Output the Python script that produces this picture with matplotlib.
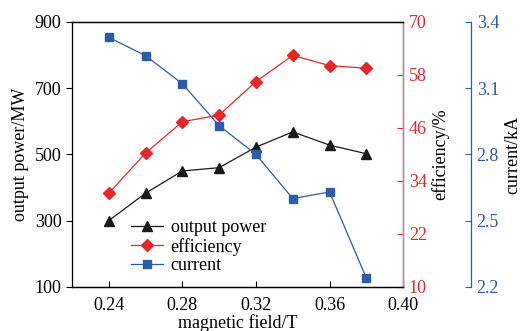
import matplotlib.pyplot as plt

# data:
field = [0.24, 0.26, 0.28, 0.30, 0.32, 0.34, 0.36, 0.38]
power = [300, 383, 450, 460, 522, 568, 528, 502]
efficiency = [31.2, 40.3, 47.4, 48.9, 56.5, 62.4, 60.1, 59.5]
current = [3.33, 3.247, 3.12, 2.93, 2.80, 2.60, 2.63, 2.24]

x_ticks = [0.24, 0.28, 0.32, 0.36, 0.40]
power_ticks = [100, 300, 500, 700, 900]
eff_ticks = [10, 22, 34, 46, 58, 70]
cur_ticks = [2.2, 2.5, 2.8, 3.1, 3.4]

black, red, blue = '#1a1a1a', '#e8262a', '#2a5caa'

plt.rcParams['font.family'] = 'Liberation Serif'
plt.rcParams['font.size'] = 13

fig = plt.figure(figsize=(5.25, 3.31), dpi=100)
ax = fig.add_axes([0.137, 0.133, 0.631, 0.801])
ax2 = ax.twinx()
ax3 = ax.twinx()
ax3.spines['right'].set_position(('axes', 1.205))

l1, = ax.plot(field, power, color=black, marker='^', ms=7, lw=0.9)
l2, = ax2.plot(field, efficiency, color=red, marker='D', ms=6, lw=0.9)
l3, = ax3.plot(field, current, color=blue, marker='s', ms=6, lw=0.9)

ax.set_xlim(0.22, 0.40)
ax.set_xticks(x_ticks)
ax.set_xticklabels(['%.2f' % v for v in x_ticks])
ax.set_ylim(100, 900)
ax.set_yticks(power_ticks)
ax2.set_ylim(10, 70)
ax2.set_yticks(eff_ticks)
ax3.set_ylim(2.2, 3.4)
ax3.set_yticks(cur_ticks)
ax3.set_yticklabels(['%.1f' % v for v in cur_ticks])

ax.tick_params(axis='x', direction='in', length=4, pad=7)
ax.tick_params(axis='y', direction='out', length=4)
ax2.tick_params(axis='y', direction='in', length=4, colors=red, pad=4)
ax3.tick_params(axis='y', direction='in', length=4, colors=blue, pad=4)

for a in (ax, ax2, ax3):
    for s in a.spines.values():
        s.set_linewidth(0.9)
ax2.spines['right'].set_color('#f08080')
ax2.spines['left'].set_visible(False)
ax3.spines['right'].set_color(blue)
ax3.spines['left'].set_visible(False)
ax3.spines['top'].set_visible(False)
ax3.spines['bottom'].set_visible(False)

ax.set_xlabel('magnetic field/T', labelpad=0)
ax.set_ylabel('output power/MW', labelpad=4)
ax2.set_ylabel('efficiency/%', labelpad=3)
ax3.set_ylabel('current/kA', labelpad=4)

ax.legend([l1, l2, l3], ['output power', 'efficiency', 'current'],
          loc='lower left', bbox_to_anchor=(0.14, 0.0), frameon=False,
          handlelength=1.8, handletextpad=0.4, labelspacing=0.1,
          borderaxespad=0.3)

fig.savefig('out.png', dpi=100)
